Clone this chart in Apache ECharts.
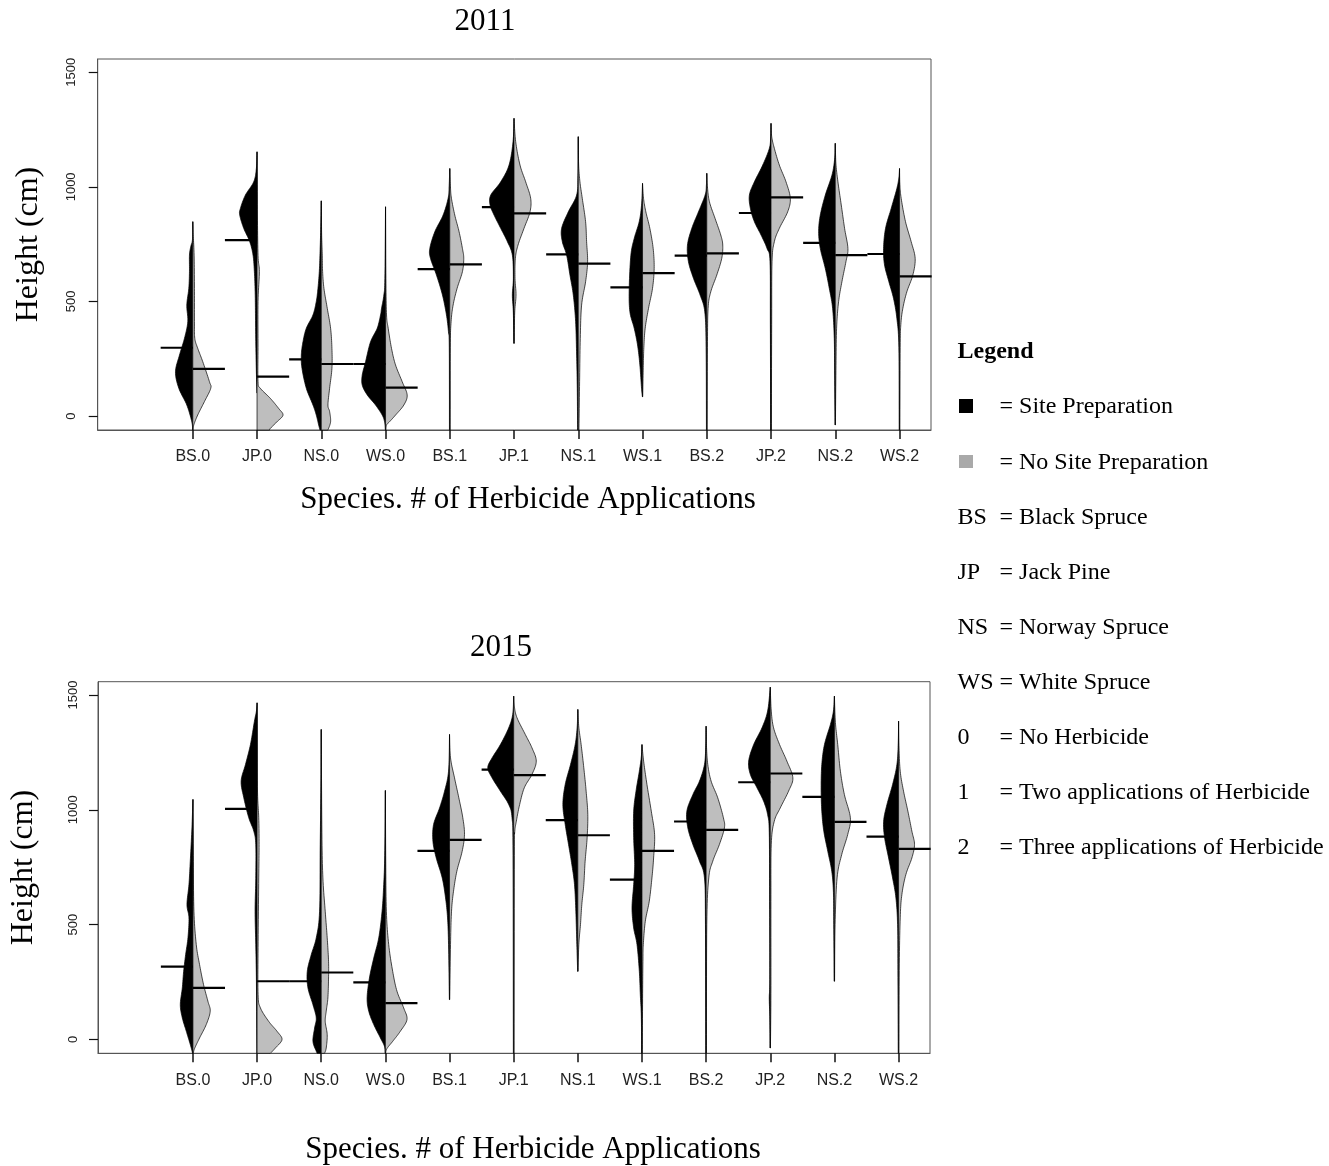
<!DOCTYPE html>
<html>
<head>
<meta charset="utf-8">
<script src="https://cdn.jsdelivr.net/npm/echarts@6/dist/echarts.min.js"></script>
<style>html,body{margin:0;padding:0;background:#fff}#chart{width:1329px;height:1166px}</style>
</head>
<body>
<div id="chart"></div>
<script>
// ---------- DATA ----------
const categories = ['BS.0','JP.0','NS.0','WS.0','BS.1','JP.1','NS.1','WS.1','BS.2','JP.2','NS.2','WS.2'];
const xPositions = [1, 2, 3, 4, 5, 6, 7, 8, 9, 10, 11, 12];
const yTicks = [0, 500, 1000, 1500];
const years = ['2011', '2015'];

// Mean heights (cm)
const meanSite2011   = [298, 768, 247, 227, 641, 912, 705, 561, 700, 886, 756, 707];
const meanNoSite2011 = [206, 172, 227, 124, 662, 884, 665, 624, 710, 954, 702, 609];
const meanSite2015   = [317, 1004, 253, 248, 821, 1175, 955, 696, 949, 1120, 1056, 883];
const meanNoSite2015 = [224, 253, 291, 158, 869, 1151, 889, 821, 912, 1158, 947, 830];

// Density profiles: [height (cm), relative density]
const densSite2011 = [
  [[-61,0.5],[-25,3],[48,18],[121,42],[193,52],[266,40],[339,25],[412,15],[484,18],[557,12],[630,10],[702,10],[740,6],[770,1],[848,0]],
  [[100,0],[193,2],[340,4],[485,5],[557,6],[630,8],[702,12],[761,22],[819,40],[877,52],[906,50],[964,35],[1022,10],[1080,2],[1153,0]],
  [[-61,4],[-39,8],[4,15],[48,25],[121,45],[208,58],[266,60],[324,55],[383,45],[441,25],[500,15],[557,10],[630,6],[702,4],[800,2],[939,0]],
  [[-61,0.5],[-25,3],[4,10],[48,30],[92,55],[135,70],[179,70],[237,60],[324,45],[383,25],[441,15],[470,12],[528,5],[600,2],[913,0]],
  [[-61,1],[300,1.5],[368,4],[441,10],[528,22],[615,40],[688,58],[731,60],[804,45],[877,20],[950,5],[1000,2],[1080,0]],
  [[317,0.5],[450,2],[528,5],[600,2],[702,5],[761,20],[819,40],[877,60],[921,72],[964,70],[1022,40],[1095,15],[1197,3],[1299,0]],
  [[-61,2],[121,3],[266,5],[412,8],[528,15],[615,25],[702,35],[761,48],[819,50],[891,30],[964,5],[1050,1],[1219,0]],
  [[84,0.5],[121,3],[223,8],[310,15],[383,25],[455,38],[557,40],[702,35],[775,25],[848,10],[920,3],[1015,0]],
  [[-61,1],[300,2],[455,6],[528,20],[601,40],[673,55],[746,58],[819,45],[891,25],[964,5],[1010,1],[1059,0]],
  [[-61,1],[400,2],[673,3],[731,12],[790,30],[848,50],[906,62],[964,65],[1022,50],[1095,25],[1168,5],[1220,1],[1277,0]],
  [[-39,0.5],[200,2],[339,3],[470,8],[557,18],[644,30],[731,45],[804,50],[877,45],[964,30],[1051,10],[1120,2],[1190,0]],
  [[-61,1],[300,2],[426,8],[513,18],[586,32],[659,45],[731,48],[819,42],[906,25],[993,8],[1040,2],[1080,0]]
];
const densNoSite2011 = [
  [[-61,0.5],[-39,3],[5,15],[63,35],[121,54],[150,50],[237,30],[295,15],[339,6],[412,5],[557,5],[702,4],[800,1],[848,0]],
  [[-61,38],[-54,40],[-25,60],[4,78],[33,65],[77,40],[121,10],[150,3],[300,3],[500,3],[630,7],[700,3],[900,1],[1153,0]],
  [[-61,20],[-25,28],[20,25],[48,20],[121,25],[208,32],[295,32],[383,28],[470,18],[557,8],[630,4],[702,3],[800,1],[939,0]],
  [[-61,1],[-39,3],[-25,12],[4,30],[48,55],[92,65],[150,50],[223,30],[295,18],[383,8],[441,3],[600,1],[913,0]],
  [[-61,1],[300,1.5],[412,4],[484,10],[557,22],[630,38],[688,42],[731,38],[804,28],[877,15],[950,5],[1000,2],[1080,0]],
  [[317,0.5],[450,2],[528,6],[600,3],[688,4],[746,12],[819,30],[891,48],[950,50],[1022,35],[1095,18],[1197,5],[1299,0]],
  [[-61,2],[150,4],[339,6],[484,10],[586,22],[673,28],[761,25],[848,22],[950,12],[1022,5],[1100,1],[1219,0]],
  [[84,0.5],[200,2],[300,4],[383,8],[470,18],[557,30],[644,35],[731,32],[819,22],[891,10],[950,3],[1015,0]],
  [[-61,1],[300,2],[470,4],[542,12],[615,30],[688,45],[746,48],[790,42],[862,25],[935,8],[1000,2],[1059,0]],
  [[-61,1],[400,2],[673,3],[761,10],[819,25],[891,50],[950,58],[1022,45],[1095,25],[1168,10],[1220,2],[1277,0]],
  [[-39,0.5],[200,2],[383,4],[499,10],[586,20],[673,32],[731,38],[819,28],[921,18],[1022,8],[1100,2],[1190,0]],
  [[-61,1],[300,2],[400,4],[470,10],[542,22],[615,40],[688,47],[761,35],[848,18],[950,5],[1010,1],[1080,0]]
];
const densSite2015 = [
  [[-61,1],[-23,8],[35,20],[93,32],[151,38],[224,32],[296,28],[369,22],[442,15],[529,12],[587,18],[674,12],[776,8],[921,3],[1045,0]],
  [[-61,0.5],[250,2],[413,4],[558,6],[700,4],[849,4],[907,10],[965,25],[1052,40],[1125,48],[1197,35],[1284,20],[1386,8],[1430,2],[1466,0]],
  [[-61,12],[-52,15],[-9,25],[49,20],[93,15],[151,25],[224,40],[296,42],[369,30],[442,15],[558,5],[849,3],[1100,1],[1350,0]],
  [[-61,0.5],[-30,3],[6,15],[64,35],[122,50],[180,55],[267,48],[354,35],[442,20],[558,10],[674,5],[800,2],[1084,0]],
  [[173,0.5],[413,3],[529,6],[616,12],[703,22],[790,40],[863,50],[936,48],[1008,30],[1081,15],[1168,3],[1328,0]],
  [[-61,1],[800,2],[965,5],[1023,15],[1081,40],[1139,65],[1183,78],[1226,65],[1284,40],[1357,15],[1415,3],[1495,0]],
  [[296,0.5],[413,3],[558,6],[674,10],[761,18],[849,28],[936,38],[1023,45],[1110,38],[1197,22],[1284,8],[1360,2],[1437,0]],
  [[-61,1],[100,2],[195,5],[296,8],[413,15],[485,25],[572,30],[674,25],[761,22],[878,25],[994,25],[1081,18],[1168,8],[1230,2],[1284,0]],
  [[-61,1],[500,2],[703,5],[776,20],[849,40],[921,55],[994,58],[1066,40],[1125,20],[1197,5],[1280,1],[1364,0]],
  [[-38,0.5],[100,1.5],[180,3],[260,1.5],[600,2],[900,3],[979,8],[1037,20],[1096,40],[1154,60],[1212,65],[1284,50],[1357,25],[1430,8],[1534,0]],
  [[253,0.5],[500,2],[640,3],[732,8],[819,20],[907,32],[994,38],[1096,40],[1197,38],[1284,30],[1372,12],[1430,3],[1495,0]],
  [[-61,1],[300,2],[500,3],[616,8],[703,18],[790,30],[878,42],[950,45],[1023,35],[1110,18],[1197,5],[1290,1],[1386,0]]
];
const densNoSite2015 = [
  [[-61,1],[-40,5],[6,20],[64,40],[122,52],[166,45],[238,32],[325,20],[413,10],[558,3],[800,1],[1045,0]],
  [[-61,40],[-38,55],[-1,75],[35,60],[78,35],[137,10],[195,3],[400,3],[703,5],[849,6],[965,5],[1100,1],[1466,0]],
  [[-61,10],[-38,15],[20,18],[78,12],[122,15],[180,20],[267,22],[340,22],[442,18],[558,12],[703,5],[900,2],[1350,0]],
  [[-61,0.5],[-40,5],[-9,22],[35,45],[86,65],[137,55],[209,35],[296,22],[413,10],[558,3],[800,1],[1084,0]],
  [[173,0.5],[413,3],[558,6],[645,12],[732,22],[819,38],[892,45],[965,40],[1052,28],[1139,15],[1226,3],[1328,0]],
  [[-61,1],[800,2],[900,3],[950,8],[1023,18],[1096,32],[1154,55],[1212,68],[1270,55],[1328,35],[1401,10],[1450,2],[1495,0]],
  [[296,0.5],[413,3],[500,8],[587,12],[674,18],[776,22],[878,28],[980,30],[1081,25],[1183,18],[1284,10],[1360,3],[1437,0]],
  [[-61,1],[200,2],[350,3],[413,4],[514,10],[602,22],[703,30],[790,35],[892,38],[994,28],[1110,15],[1212,5],[1284,0]],
  [[-61,1],[500,2],[703,8],[776,20],[849,40],[921,55],[965,52],[1052,35],[1125,15],[1197,5],[1280,1],[1364,0]],
  [[-38,0.5],[200,2],[600,2],[850,3],[950,12],[1008,30],[1081,55],[1139,68],[1212,50],[1284,28],[1357,10],[1430,3],[1534,0]],
  [[253,0.5],[500,2],[703,8],[805,22],[892,40],[965,48],[1066,30],[1168,18],[1284,10],[1380,3],[1495,0]],
  [[-61,1],[300,2],[529,5],[631,10],[718,22],[790,40],[849,48],[907,40],[994,28],[1081,15],[1168,5],[1280,1],[1386,0]]
];

const legendRows = [
  ['', '= Site Preparation'],
  ['', '= No Site Preparation'],
  ['BS', '= Black Spruce'],
  ['JP', '= Jack Pine'],
  ['NS', '= Norway Spruce'],
  ['WS', '= White Spruce'],
  ['0', '= No Herbicide'],
  ['1', '= Two applications of Herbicide'],
  ['2', '= Three applications of Herbicide']
];

// ---------- RENDERING ----------
const DENS_SCALE = 193;      // relative density units per x unit
const X_MIN = -0.48, X_MAX = 12.49;
const Y_MIN = -61, Y_MAX = 1558;
const SITE_COLOR = '#000000';
const NOSITE_COLOR = '#bebebe';
const FRAME = '#555';
const TICK = '#111';
const SERIF = '"Liberation Serif", "Times New Roman", serif';
const SANS = '"Liberation Sans", Arial, sans-serif';

function smoothOutline(pts, cx, side) {
  const out = [];
  const n = pts.length;
  const STEPS = 10;
  for (let i = 0; i < n - 1; i++) {
    const p0 = pts[Math.max(i - 1, 0)], p1 = pts[i], p2 = pts[i + 1], p3 = pts[Math.min(i + 2, n - 1)];
    for (let s = 0; s < STEPS; s++) {
      const t = s / STEPS, t2 = t * t, t3 = t2 * t;
      const f = (a, b, c, d) => 0.5 * ((2 * b) + (-a + c) * t + (2 * a - 5 * b + 4 * c - d) * t2 + (-a + 3 * b - 3 * c + d) * t3);
      let x = f(p0[0], p1[0], p2[0], p3[0]);
      const y = f(p0[1], p1[1], p2[1], p3[1]);
      x = side < 0 ? Math.min(x, cx) : Math.max(x, cx);
      out.push([x, y]);
    }
  }
  out.push(pts[n - 1]);
  return out;
}

function beanSeries(gridIdx, profiles, means, side, fill) {
  return {
    type: 'custom',
    coordinateSystem: 'cartesian2d',
    xAxisIndex: gridIdx, yAxisIndex: gridIdx,
    z: 2,
    data: xPositions.map((x, i) => [x, means[i]]),
    encode: { x: 0, y: 1 },
    renderItem: function (params, api) {
      const prof = profiles[params.dataIndex];
      const xv = api.value(0);
      const cx = api.coord([xv, 0])[0];
      const unit = api.size([1, 0])[0];
      const raw = prof.map(p => [cx + side * p[1] * unit / DENS_SCALE, api.coord([xv, p[0]])[1]]);
      const outline = smoothOutline(raw, cx, side);
      const pts = [[cx, raw[0][1]]].concat(outline).concat([[cx, raw[raw.length - 1][1]]]);
      return {
        type: 'polygon',
        shape: { points: pts },
        style: { fill: fill, stroke: '#000', lineWidth: 0.7, lineJoin: 'round' }
      };
    }
  };
}

function meanSeries(gridIdx, means, side) {
  return {
    type: 'custom',
    coordinateSystem: 'cartesian2d',
    xAxisIndex: gridIdx, yAxisIndex: gridIdx,
    z: 3,
    data: xPositions.map((x, i) => [x, means[i]]),
    encode: { x: 0, y: 1 },
    renderItem: function (params, api) {
      const p = api.coord([api.value(0), api.value(1)]);
      const unit = api.size([1, 0])[0];
      return {
        type: 'line',
        shape: { x1: p[0], y1: p[1], x2: p[0] + side * 0.5 * unit, y2: p[1] },
        style: { stroke: '#000', lineWidth: 2.2 }
      };
    }
  };
}

const grids = [
  { left: 97.7, top: 59, width: 833.3, height: 371 },
  { left: 94.3, top: 681.7, width: 835.7, height: 371.6 }
];
const yNameGap = [53, 58];
const yLabelMargin = [20, 18];

const xAxes = grids.map((g, gi) => ({
  type: 'value', gridIndex: gi, position: 'bottom', min: X_MIN, max: X_MAX,
  axisLine: { show: true, onZero: false, lineStyle: { color: FRAME, width: 1 } },
  axisTick: { show: true, length: 9, customValues: xPositions, lineStyle: { color: TICK, width: 1.5 } },
  axisLabel: { customValues: xPositions, margin: 19, fontSize: 16, color: '#222', fontFamily: SANS,
               formatter: v => categories[xPositions.indexOf(Math.round(v))] || '' },
  splitLine: { show: false }
}));
const yAxes = grids.map((g, gi) => ({
  type: 'value', gridIndex: gi, position: 'left', min: Y_MIN, max: Y_MAX,
  name: 'Height (cm)', nameLocation: 'middle', nameGap: yNameGap[gi],
  nameTextStyle: { fontFamily: SERIF, fontSize: 32, color: '#000' },
  axisLine: { show: true, onZero: false, lineStyle: { color: FRAME, width: 1 } },
  axisTick: { show: true, length: 9, customValues: yTicks, lineStyle: { color: TICK, width: 1.2 } },
  axisLabel: { customValues: yTicks, rotate: 90, margin: yLabelMargin[gi], fontSize: 13, color: '#222', fontFamily: SANS, formatter: v => String(v) },
  splitLine: { show: false }
}));

const series = [
  beanSeries(0, densSite2011, meanSite2011, -1, SITE_COLOR),
  beanSeries(0, densNoSite2011, meanNoSite2011, 1, NOSITE_COLOR),
  meanSeries(0, meanSite2011, -1),
  meanSeries(0, meanNoSite2011, 1),
  beanSeries(1, densSite2015, meanSite2015, -1, SITE_COLOR),
  beanSeries(1, densNoSite2015, meanNoSite2015, 1, NOSITE_COLOR),
  meanSeries(1, meanSite2015, -1),
  meanSeries(1, meanNoSite2015, 1)
];

const graphics = [
  { type: 'text', x: 485, y: 22, style: { text: years[0], font: '31px ' + SERIF, fill: '#000', align: 'center', verticalAlign: 'middle' } },
  { type: 'text', x: 501, y: 648, style: { text: years[1], font: '31px ' + SERIF, fill: '#000', align: 'center', verticalAlign: 'middle' } },
  { type: 'text', x: 528, y: 500, style: { text: 'Species. # of Herbicide Applications', font: '31px ' + SERIF, fill: '#000', align: 'center', verticalAlign: 'middle' } },
  { type: 'text', x: 533, y: 1150, style: { text: 'Species. # of Herbicide Applications', font: '31px ' + SERIF, fill: '#000', align: 'center', verticalAlign: 'middle' } },
  { type: 'text', x: 957.5, y: 352, style: { text: 'Legend', font: 'bold 24px ' + SERIF, fill: '#000', align: 'left', verticalAlign: 'middle' } },
  { type: 'rect', shape: { x: 959, y: 399, width: 14, height: 14 }, style: { fill: '#000' } },
  { type: 'rect', shape: { x: 959, y: 455, width: 14, height: 13 }, style: { fill: '#a9a9a9' } }
];
const rowY = [406.4, 462.6, 517.7, 572.8, 627.9, 683, 738, 793.2, 848.2];
legendRows.forEach((r, i) => {
  if (r[0]) graphics.push({ type: 'text', x: 957.5, y: rowY[i], style: { text: r[0], font: '24px ' + SERIF, fill: '#000', align: 'left', verticalAlign: 'middle' } });
  graphics.push({ type: 'text', x: 999.5, y: rowY[i], style: { text: r[1], font: '24px ' + SERIF, fill: '#000', align: 'left', verticalAlign: 'middle' } });
});

const chart = echarts.init(document.getElementById('chart'), null, { renderer: 'canvas' });
chart.setOption({
  animation: false,
  backgroundColor: '#fff',
  grid: grids.map(g => Object.assign({ show: true, borderColor: FRAME, borderWidth: 1, backgroundColor: 'transparent', containLabel: false }, g)),
  xAxis: xAxes,
  yAxis: yAxes,
  series: series,
  graphic: graphics
});
</script>
</body>
</html>
